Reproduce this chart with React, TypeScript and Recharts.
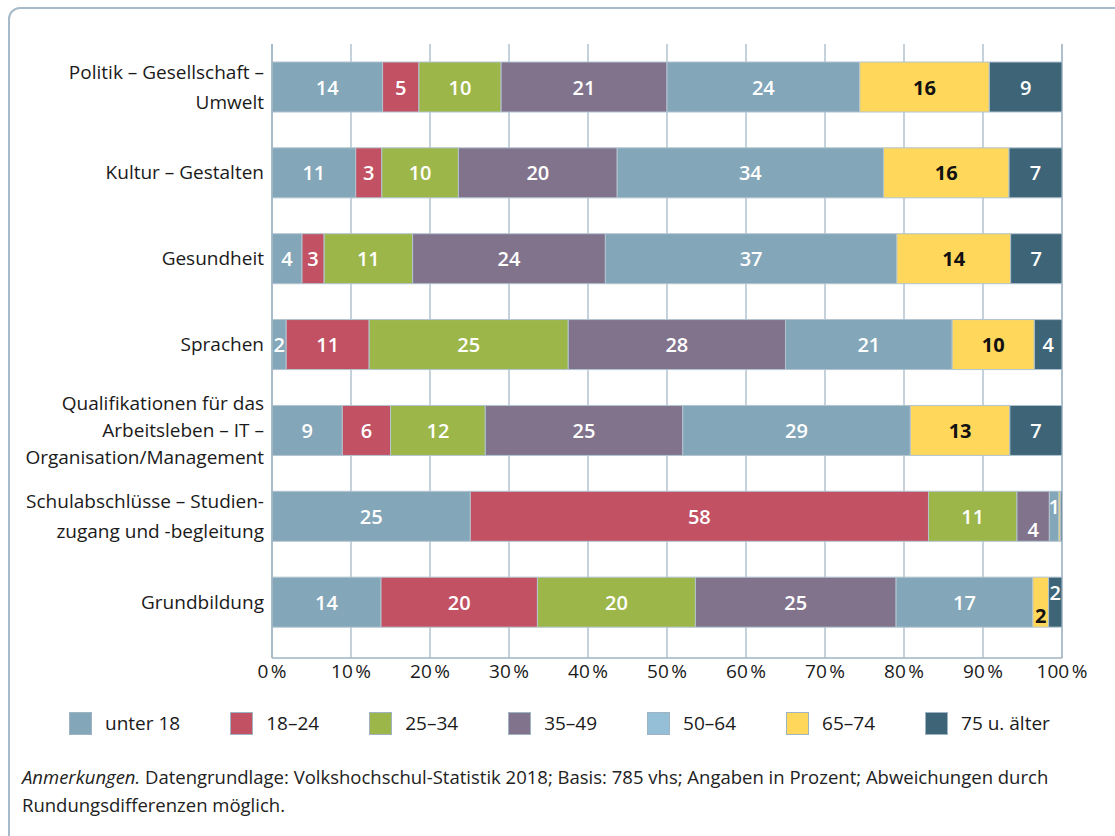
import { BarChart, Bar, XAxis, YAxis, CartesianGrid } from 'recharts';

const categories = [
    'Politik – Gesellschaft –\nUmwelt',
    'Kultur – Gestalten',
    'Gesundheit',
    'Sprachen',
    'Qualifikationen für das\nArbeitsleben – IT –\nOrganisation/Management',
    'Schulabschlüsse – Studien-\nzugang und -begleitung',
    'Grundbildung',
];

const seriesNames = ['unter 18', '18–24', '25–34', '35–49', '50–64', '65–74', '75 u. älter'];

// shares in percent, one array per age group (same order as categories)
const unter18 = [14.0, 10.6, 3.8, 1.8, 8.9, 25.1, 13.8];
const age18to24 = [4.6, 3.3, 2.8, 10.5, 6.1, 58.0, 19.8];
const age25to34 = [10.4, 9.7, 11.2, 25.2, 12.0, 11.2, 20.0];
const age35to49 = [21.0, 20.1, 24.4, 27.5, 25.0, 4.1, 25.4];
const age50to64 = [24.4, 33.7, 36.9, 21.1, 28.8, 1.2, 17.3];
const age65to74 = [16.4, 15.9, 14.4, 10.4, 12.6, 0.2, 2.0];
const age75plus = [9.2, 6.7, 6.5, 3.5, 6.6, 0.2, 1.7];

const xTicks = [0, 10, 20, 30, 40, 50, 60, 70, 80, 90, 100];

const seriesValues = [unter18, age18to24, age25to34, age35to49, age50to64, age65to74, age75plus];
const barColors = ['#83a6b8', '#c15163', '#9db649', '#82738d', '#83a6b8', '#fed75b', '#3e6577'];
const legendColors = ['#83a6b8', '#c15163', '#9db649', '#82738d', '#94bfd6', '#fed75b', '#3e6577'];
const labelColors = ['#fff', '#fff', '#fff', '#fff', '#fff', '#111', '#fff'];

const FONT = "'Open Sans', 'Noto Sans', sans-serif";

const data = categories.map((name, i) => {
    const row: Record<string, string | number> = { name };
    seriesNames.forEach((s, k) => { row[s] = seriesValues[k][i]; });
    return row;
});

const CategoryTick = (props: any) => {
    const { x, y, payload } = props;
    const lines = String(payload.value).split('\n');
    const lh = lines.length > 2 ? 27 : 30;
    return (
        <text x={x} y={y} textAnchor='end' fill='#1a1a1a' fontSize={19} fontFamily={FONT}>
            {lines.map((l, i) => (
                <tspan key={i} x={x} y={y + (i - (lines.length - 1) / 2) * lh} dy='0.35em'>{l}</tspan>
            ))}
        </text>
    );
};

// narrow neighbouring segments get their numbers pushed up / down
function labelShift(k: number, row: number) {
    const v = seriesValues[k][row];
    const prev = k > 0 ? seriesValues[k - 1][row] : 0;
    const next = k < seriesValues.length - 1 ? seriesValues[k + 1][row] : 0;
    if (v < 2.5 && prev >= 0.5 && prev < 5) return -10;
    if (v < 5 && next >= 0.5 && next < 2.5) return 13;
    return 0;
}

const makeLabel = (k: number) => (props: any) => {
    const { x, y, width, height, index } = props;
    const v = seriesValues[k][index];
    if (v === undefined || v < 0.5) return null;
    return (
        <text
            x={x + width / 2}
            y={y + height / 2 + labelShift(k, index)}
            textAnchor='middle'
            dominantBaseline='central'
            fill={labelColors[k]}
            fontSize={20}
            fontWeight={k === 5 ? 700 : 600}
            fontFamily={FONT}
        >
            {Math.round(v)}
        </text>
    );
};

export default function App() {
    return (
        <div style={{ position: 'fixed', left: 0, top: 0, width: 1115, height: 836, overflow: 'hidden', background: '#fff', fontFamily: FONT }}>
            <div style={{ position: 'absolute', left: 8, top: 7, width: 1130, height: 850, border: '2px solid #a6bac9', borderRadius: 12, boxSizing: 'border-box' }} />
            <div style={{ position: 'absolute', left: 0, top: 0 }}>
                <BarChart
                    width={1115}
                    height={700}
                    data={data}
                    layout='vertical'
                    barSize={50}
                    margin={{ top: 44, right: 53, bottom: 12, left: 0 }}
                >
                    <CartesianGrid horizontal={false} stroke='#9fb4c3' strokeWidth={1.2} />
                    <XAxis
                        type='number'
                        domain={[0, 100]}
                        ticks={xTicks}
                        tickFormatter={(v) => `${v}\u202F%`}
                        axisLine={{ stroke: '#9fb4c3', strokeWidth: 1.5 }}
                        tickLine={false}
                        tickSize={0}
                        tickMargin={7}
                        height={30}
                        tick={{ fill: '#1a1a1a', fontSize: 19, fontFamily: FONT }}
                    />
                    <YAxis
                        type='category'
                        dataKey='name'
                        width={272}
                        padding={{ top: 0, bottom: 13 }}
                        axisLine={{ stroke: '#9fb4c3', strokeWidth: 1.5 }}
                        tickLine={false}
                        tickSize={0}
                        tickMargin={8}
                        interval={0}
                        tick={<CategoryTick />}
                    />
                    {seriesNames.map((s, k) => (
                        <Bar
                            key={s}
                            dataKey={s}
                            stackId='a'
                            fill={barColors[k]}
                            stroke='#b2c4d0'
                            strokeWidth={1}
                            isAnimationActive={false}
                            label={makeLabel(k)}
                        />
                    ))}
                </BarChart>
            </div>
            <div style={{ position: 'absolute', left: 69, top: 710, display: 'flex', alignItems: 'center', fontSize: 19, color: '#1a1a1a', whiteSpace: 'nowrap' }}>
                {seriesNames.map((s, k) => (
                    <div key={s} style={{ display: 'flex', alignItems: 'center', marginRight: 50 }}>
                        <span style={{ display: 'inline-block', width: 21, height: 21, background: legendColors[k], border: '1px solid #9fb4c3', marginRight: 13 }} />
                        <span>{s}</span>
                    </div>
                ))}
            </div>
            <div style={{ position: 'absolute', left: 22, top: 763, fontSize: 18.5, lineHeight: '28px', color: '#222' }}>
                <i>Anmerkungen.</i> Datengrundlage: Volkshochschul-Statistik 2018; Basis: 785 vhs; Angaben in Prozent; Abweichungen durch
                <br />
                Rundungsdifferenzen möglich.
            </div>
        </div>
    );
}
